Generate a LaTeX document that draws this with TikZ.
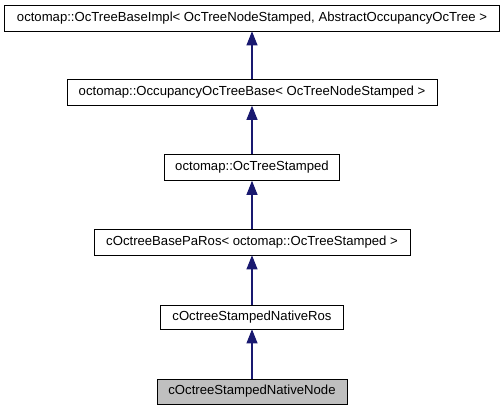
\documentclass[tikz,border=0pt]{standalone}
\usepackage{fontspec}
\setmainfont{Liberation Sans}
\usetikzlibrary{arrows.meta}
\tikzset{
	classe/.style={draw=black,fill=white,inner sep=0pt,minimum height=19.5pt,font=\fontsize{9.85pt}{11pt}\selectfont},
	courante/.style={classe,fill=black!25},
	herite/.style={draw={rgb,255:red,25;green,25;blue,112},line width=0.8pt,-{Triangle[length=10.5pt,width=8.2pt]}}
}
\begin{document}
\begin{tikzpicture}[x=0.75pt,y=-0.75pt]
	\def\cx{252};
	\useasboundingbox (0,0) rectangle (504,411);
	
	%Classes
	\node[classe,minimum width=371.25pt] (base) at (\cx,18) {octomap::OcTreeBaseImpl< OcTreeNodeStamped, AbstractOccupancyOcTree >};
	\node[classe,minimum width=277.5pt] (occ) at (\cx,92.5) {octomap::OccupancyOcTreeBase< OcTreeNodeStamped >};
	\node[classe,minimum width=131.25pt] (stamped) at (\cx,167.5) {octomap::OcTreeStamped};
	\node[classe,minimum width=237pt] (paros) at (\cx,242) {cOctreeBasePaRos< octomap::OcTreeStamped >};
	\node[classe,minimum width=137.25pt,minimum height=18pt] (ros) at (\cx,317) {cOctreeStampedNativeRos};
	\node[courante,minimum width=142.5pt,minimum height=18.75pt] (native) at (\cx,391.5) {cOctreeStampedNativeNode};
	
	%Heritages
	\draw[herite] (occ) -- (base);
	\draw[herite] (stamped) -- (occ);
	\draw[herite] (paros) -- (stamped);
	\draw[herite] (ros) -- (paros);
	\draw[herite] (native) -- (ros);
	
\end{tikzpicture}
\end{document}
